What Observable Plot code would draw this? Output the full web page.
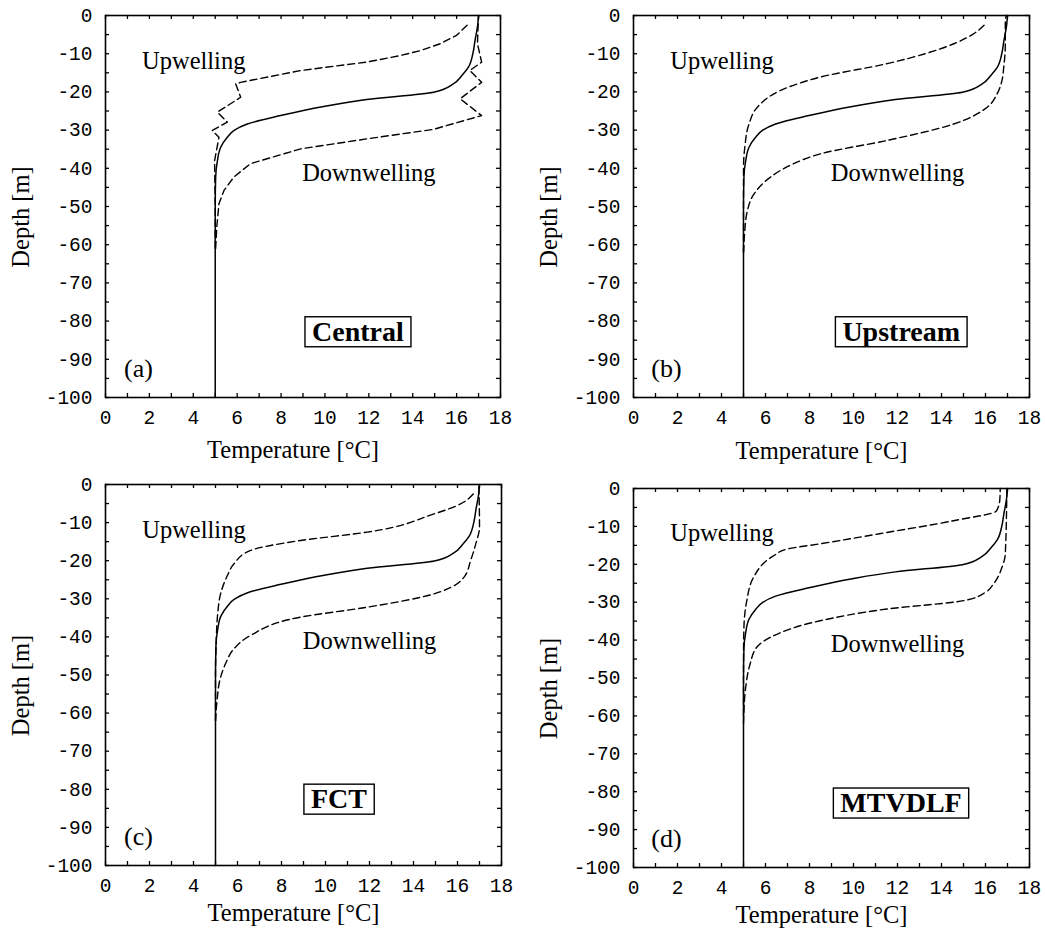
<!DOCTYPE html>
<html>
<head>
<meta charset="utf-8">
<script src="https://cdn.jsdelivr.net/npm/d3@7"></script>
<script src="https://cdn.jsdelivr.net/npm/@observablehq/plot@0.6"></script>
<style>
  html, body { margin: 0; padding: 0; background: #fff; }
  #chart { position: relative; width: 1045px; height: 934px; background: #fff; }
  #chart > div { position: absolute; }
  .ticklbl text { font-feature-settings: "zero" 1; font-variant-numeric: slashed-zero; }
</style>
</head>
<body>
<div id="chart"></div>
<script>
// ---------- data ----------
const xTicks = [0, 2, 4, 6, 8, 10, 12, 14, 16, 18];
const xMinor = d3.range(0, 19, 1);
const yTicks = [0, -10, -20, -30, -40, -50, -60, -70, -80, -90, -100];
const yMinor = d3.range(-100, 1, 5);
const xDomain = [0, 18];
const yDomain = [-100, 0];

const panelTags = ["(a)", "(b)", "(c)", "(d)"];
const schemeNames = ["Central", "Upstream", "FCT", "MTVDLF"];
const schemeT = [11.5, 12.17, 10.61, 12.16];
const schemeD = [-82.8, -82.8, -82.6, -83.0];

// initial profile (solid) – identical in all panels
const solidT = [17, 16.95, 16.84, 16.74, 16.54, 16.24, 15.85, 14.95, 11.9, 9.95, 7.98, 6.46, 5.86, 5.55, 5.25, 5.1, 5.02, 5.0, 5.0];
const solidD = [0, -3, -6.5, -10, -13.5, -15.7, -17.9, -20.1, -22, -23.8, -26.2, -28.4, -30.1, -31.9, -34.5, -38, -42.3, -50, -100];

// (a) Central
const upT_a = [16.54, 16.0, 15.25, 14.34, 13.43, 11.9, 8.9, 6.16, 5.93, 6.16, 5.1, 5.55, 4.87, 5.17, 4.97, 5.0, 5.0];
const upD_a = [-2.2, -5.2, -7.4, -9.2, -10.5, -12.2, -14.4, -17.5, -17.9, -21.4, -25.3, -27.9, -30.1, -31.9, -38, -50, -61];
const dnT_a = [17, 16.97, 16.95, 17.14, 16.6, 17.14, 16.16, 17.14, 14.95, 11.9, 8.9, 6.6, 5.85, 5.4, 5.17, 5.07, 5.02];
const dnD_a = [0, -4, -7.4, -12.2, -14.4, -17.5, -21.8, -26.2, -29.8, -32.3, -34.9, -38.8, -42.3, -45.8, -49.3, -55.4, -61];

// (b) Upstream
const upT_b = [16.0, 15.4, 14.56, 11.53, 8.5, 7.5, 6.69, 5.63, 5.25, 5.06, 5.0, 5.0];
const upD_b = [-2.2, -5, -7.4, -12.6, -16.1, -17.8, -19.6, -24, -28.4, -34.5, -39.7, -62];
const dnT_b = [16.95, 16.9, 16.9, 16.83, 16.75, 16.53, 16.08, 14.56, 11.53, 8.5, 7.2, 6.23, 5.48, 5.18, 5.05, 5.0];
const dnD_b = [0, -1.3, -8, -13.5, -17, -20.5, -24, -28.4, -32.7, -36.2, -39, -42.3, -46.7, -51, -57, -62];

// (c) FCT
const upT_c = [16.76, 16.0, 14.94, 11.9, 8.87, 6.6, 5.84, 5.54, 5.23, 5.1, 5.03, 5.0, 5.0];
const upD_c = [-2.2, -5.5, -7.7, -12.5, -14.7, -17.3, -20.8, -23.9, -28.7, -33.9, -41.8, -50, -62];
const dnT_c = [16.97, 17.0, 16.83, 16.6, 16.3, 15.7, 14.94, 11.9, 8.87, 6.6, 5.84, 5.46, 5.23, 5.07, 5.0];
const dnD_c = [0, -11.2, -15.6, -19.9, -24.3, -27, -28.7, -32.2, -34.8, -39.6, -43.1, -47, -50.6, -56.7, -62];

// (d) MTVDLF
const upT_d = [16.67, 16.65, 16.5, 14.55, 11.52, 8.48, 6.97, 6.36, 5.45, 5.15, 5.02, 5.0, 5.0];
const upD_d = [0, -3, -5.9, -8.5, -11.6, -14.6, -16, -17.8, -23.5, -29.6, -36.6, -45, -60];
const dnT_d = [16.97, 16.9, 16.75, 16.36, 16.0, 15.0, 11.52, 8.48, 6.21, 5.6, 5.3, 5.1, 5.02, 5.0];
const dnD_d = [0, -17.3, -20.8, -25.2, -27.4, -29.6, -31.8, -34.9, -39.3, -41.9, -46.3, -52.4, -58.6, -62];

const upT = [upT_a, upT_b, upT_c, upT_d];
const upD = [upD_a, upD_b, upD_c, upD_d];
const dnT = [dnT_a, dnT_b, dnT_c, dnT_d];
const dnD = [dnD_a, dnD_b, dnD_c, dnD_d];

// ---------- layout ----------
const layout = [
  {left: 0,   top: 0,   width: 520, height: 470, mL: 105, mR: 20, mT: 15, mB: 73, xlab: 53},
  {left: 520, top: 0,   width: 525, height: 470, mL: 113, mR: 16, mT: 15, mB: 73, xlab: 54},
  {left: 0,   top: 470, width: 520, height: 464, mL: 105, mR: 19, mT: 14, mB: 69, xlab: 48},
  {left: 520, top: 470, width: 525, height: 464, mL: 113, mR: 16, mT: 18, mB: 67, xlab: 48}
];

const serif = "'Liberation Serif', 'Times New Roman', serif";
const mono = "'Liberation Mono', 'DejaVu Sans Mono', monospace";
const fmt = d => String(d);
const chart = document.getElementById("chart");

function pts(T, D) {
  return T.map((t, i) => ({t, d: D[i]}));
}

layout.forEach((L, k) => {
  const smooth = k === 0 ? "linear" : "monotone-y";
  const sortD = arr => arr.slice().sort((a, b) => a.d - b.d);
  const plot = Plot.plot({
    width: L.width,
    height: L.height,
    marginLeft: L.mL,
    marginRight: L.mR,
    marginTop: L.mT,
    marginBottom: L.mB,
    x: {domain: xDomain},
    y: {domain: yDomain},
    style: {fontFamily: mono, fontSize: "19.5px", color: "#000", background: "#fff", overflow: "visible"},
    marks: [
      // inward minor ticks
      Plot.ruleX(xMinor, {x: d => d, y1: () => yDomain[0], y2: () => yDomain[0], insetTop: -4, stroke: "#000", strokeWidth: 1.3}),
      Plot.ruleX(xMinor, {x: d => d, y1: () => yDomain[1], y2: () => yDomain[1], insetTop: 4, stroke: "#000", strokeWidth: 1.3}),
      Plot.ruleY(yMinor, {y: d => d, x1: () => xDomain[0], x2: () => xDomain[0], insetLeft: 4, stroke: "#000", strokeWidth: 1.3}),
      Plot.ruleY(yMinor, {y: d => d, x1: () => xDomain[1], x2: () => xDomain[1], insetLeft: -4, stroke: "#000", strokeWidth: 1.3}),
      Plot.frame({stroke: "#000", strokeWidth: 1.6}),
      // tick labels
      Plot.axisX({ticks: xTicks, tickSize: 0, tickPadding: 13, tickFormat: fmt, label: null, fontSize: 19.5}),
      Plot.axisY({ticks: yTicks, tickSize: 0, tickPadding: 13, tickFormat: fmt, label: null, fontSize: 19.5}),
      // axis titles
      Plot.text(["Temperature [°C]"], {frameAnchor: "bottom", text: d => d, dy: L.xlab, dx: -10, fontFamily: serif, fontSize: 24.5, textAnchor: "middle", lineAnchor: "middle"}),
      Plot.text(["Depth [m]"], {frameAnchor: "left", text: d => d, rotate: -90, dx: -84, dy: 10.5, fontFamily: serif, fontSize: 24.5, textAnchor: "middle", lineAnchor: "middle"}),
      // profiles
      Plot.line(pts(solidT, solidD), {x: "t", y: "d", stroke: "#000", strokeWidth: 1.5, curve: "monotone-y"}),
      Plot.line(sortD(pts(upT[k], upD[k])), {x: "t", y: "d", stroke: "#000", strokeWidth: 1.4, strokeDasharray: "7,4", curve: smooth}),
      Plot.line(sortD(pts(dnT[k], dnD[k])), {x: "t", y: "d", stroke: "#000", strokeWidth: 1.4, strokeDasharray: "7,4", curve: smooth}),
      // annotations
      Plot.text(["Upwelling"], {x: () => 4.02, y: () => -11.9, text: d => d, fontFamily: serif, fontSize: 24.5, lineAnchor: "middle"}),
      Plot.text(["Downwelling"], {x: () => 12.0, y: () => -41.2, text: d => d, fontFamily: serif, fontSize: 24.5, lineAnchor: "middle"}),
      Plot.text([panelTags[k]], {x: () => 1.5, y: () => -92.4, text: d => d, fontFamily: serif, fontSize: 26, lineAnchor: "middle"}),
      Plot.text([schemeNames[k]], {x: () => schemeT[k], y: () => schemeD[k], text: d => d, fontFamily: serif, fontSize: 28, fontWeight: "bold", lineAnchor: "middle"})
    ]
  });
  const holder = document.createElement("div");
  holder.style.left = L.left + "px";
  holder.style.top = L.top + "px";
  holder.appendChild(plot);
  chart.appendChild(holder);

  plot.querySelectorAll("g[aria-label='x-axis tick label'], g[aria-label='y-axis tick label']").forEach(g => g.classList.add("ticklbl"));

  // box around scheme name
  const txt = Array.from(plot.querySelectorAll("text")).find(t => t.textContent === schemeNames[k]);
  if (txt) {
    const bb = txt.getBBox();
    const g = txt.parentNode;
    const rect = document.createElementNS("http://www.w3.org/2000/svg", "rect");
    rect.setAttribute("x", bb.x - 7);
    rect.setAttribute("y", bb.y + 1);
    rect.setAttribute("width", bb.width + 14);
    rect.setAttribute("height", bb.height - 1);
    rect.setAttribute("fill", "none");
    rect.setAttribute("stroke", "#000");
    rect.setAttribute("stroke-width", "1.4");
    const tr = txt.getAttribute("transform");
    if (tr) rect.setAttribute("transform", tr);
    g.insertBefore(rect, txt);
  }
});
</script>
</body>
</html>
